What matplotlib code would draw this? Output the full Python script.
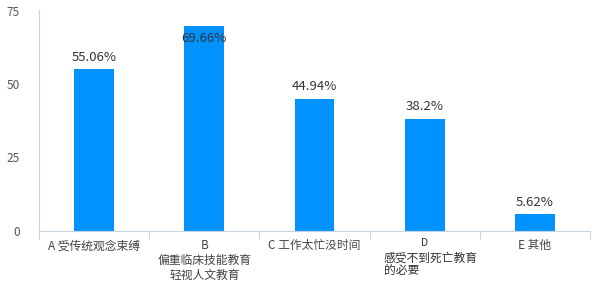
import matplotlib
matplotlib.use("Agg")
import matplotlib.pyplot as plt
import numpy as np

plt.rcParams['font.family'] = ['Noto Sans CJK SC', 'DejaVu Sans']

categories = ["A 受传统观念束缚", "B\n偏重临床技能教育\n轻视人文教育", "C 工作太忙没时间",
              "D\n感受不到死亡教育\n的必要", "E 其他"]
values = [55.06, 69.66, 44.94, 38.2, 5.62]
labels = ["55.06%", "69.66%", "44.94%", "38.2%", "5.62%"]
yticks = [0, 25, 50, 75]

fig = plt.figure(figsize=(6, 3), dpi=100)
ax = fig.add_axes([39/600, 1-231/300, (590-39)/600, (231-10.5)/300])

x = np.arange(len(values))
bar_color = "#0092ff"
ax.bar(x, values, width=0.36, color=bar_color, zorder=2)

ax.set_xlim(-0.5, len(values) - 0.5)
ax.set_ylim(0, 75)
ax.set_yticks(yticks)
ax.set_yticklabels([str(t) for t in yticks], fontsize=8.5, color="#555555")
ax.tick_params(axis='y', length=0, pad=14)

axis_color = "#c6d3e2"
for s in ['top', 'right']:
    ax.spines[s].set_visible(False)
ax.spines['left'].set_color(axis_color)
ax.spines['bottom'].set_color(axis_color)
ax.spines['left'].set_linewidth(0.8)
ax.spines['bottom'].set_linewidth(0.8)

ax.set_xticks(x)
ax.set_xticklabels([""] * len(x))
ax.tick_params(axis='x', which='major', length=0)
ax.set_xticks(np.arange(len(values) + 1) - 0.5, minor=True)
ax.tick_params(axis='x', which='minor', length=6, color=axis_color, width=0.8)

# category labels
for i, lab in enumerate(categories):
    if i == 3:
        parts = lab.split("\n")
        ax.annotate(parts[0], xy=(i, 0), xycoords=('data', 'axes fraction'),
                    xytext=(0, -5), textcoords='offset points', ha='center', va='top',
                    fontsize=7.5, color="#333333")
        ax.annotate("\n".join(parts[1:]), xy=(i - 0.37, 0), xycoords=('data', 'axes fraction'),
                    xytext=(0, -15), textcoords='offset points', ha='left', va='top',
                    fontsize=8.5, color="#333333", linespacing=1.0)
    else:
        ax.annotate(lab, xy=(i, 0), xycoords=('data', 'axes fraction'),
                    xytext=(0, -6), textcoords='offset points', ha='center', va='top',
                    fontsize=8.5, color="#444444", linespacing=1.2)

# value labels
for i, (v, t) in enumerate(zip(values, labels)):
    if v > 65:
        ax.annotate(t, xy=(i, v), xytext=(0, -4), textcoords='offset points',
                    ha='center', va='top', fontsize=9.5, color="#333333")
    else:
        ax.annotate(t, xy=(i, v), xytext=(0, 4), textcoords='offset points',
                    ha='center', va='bottom', fontsize=9.5, color="#333333")

fig.savefig("out.png", dpi=100)
